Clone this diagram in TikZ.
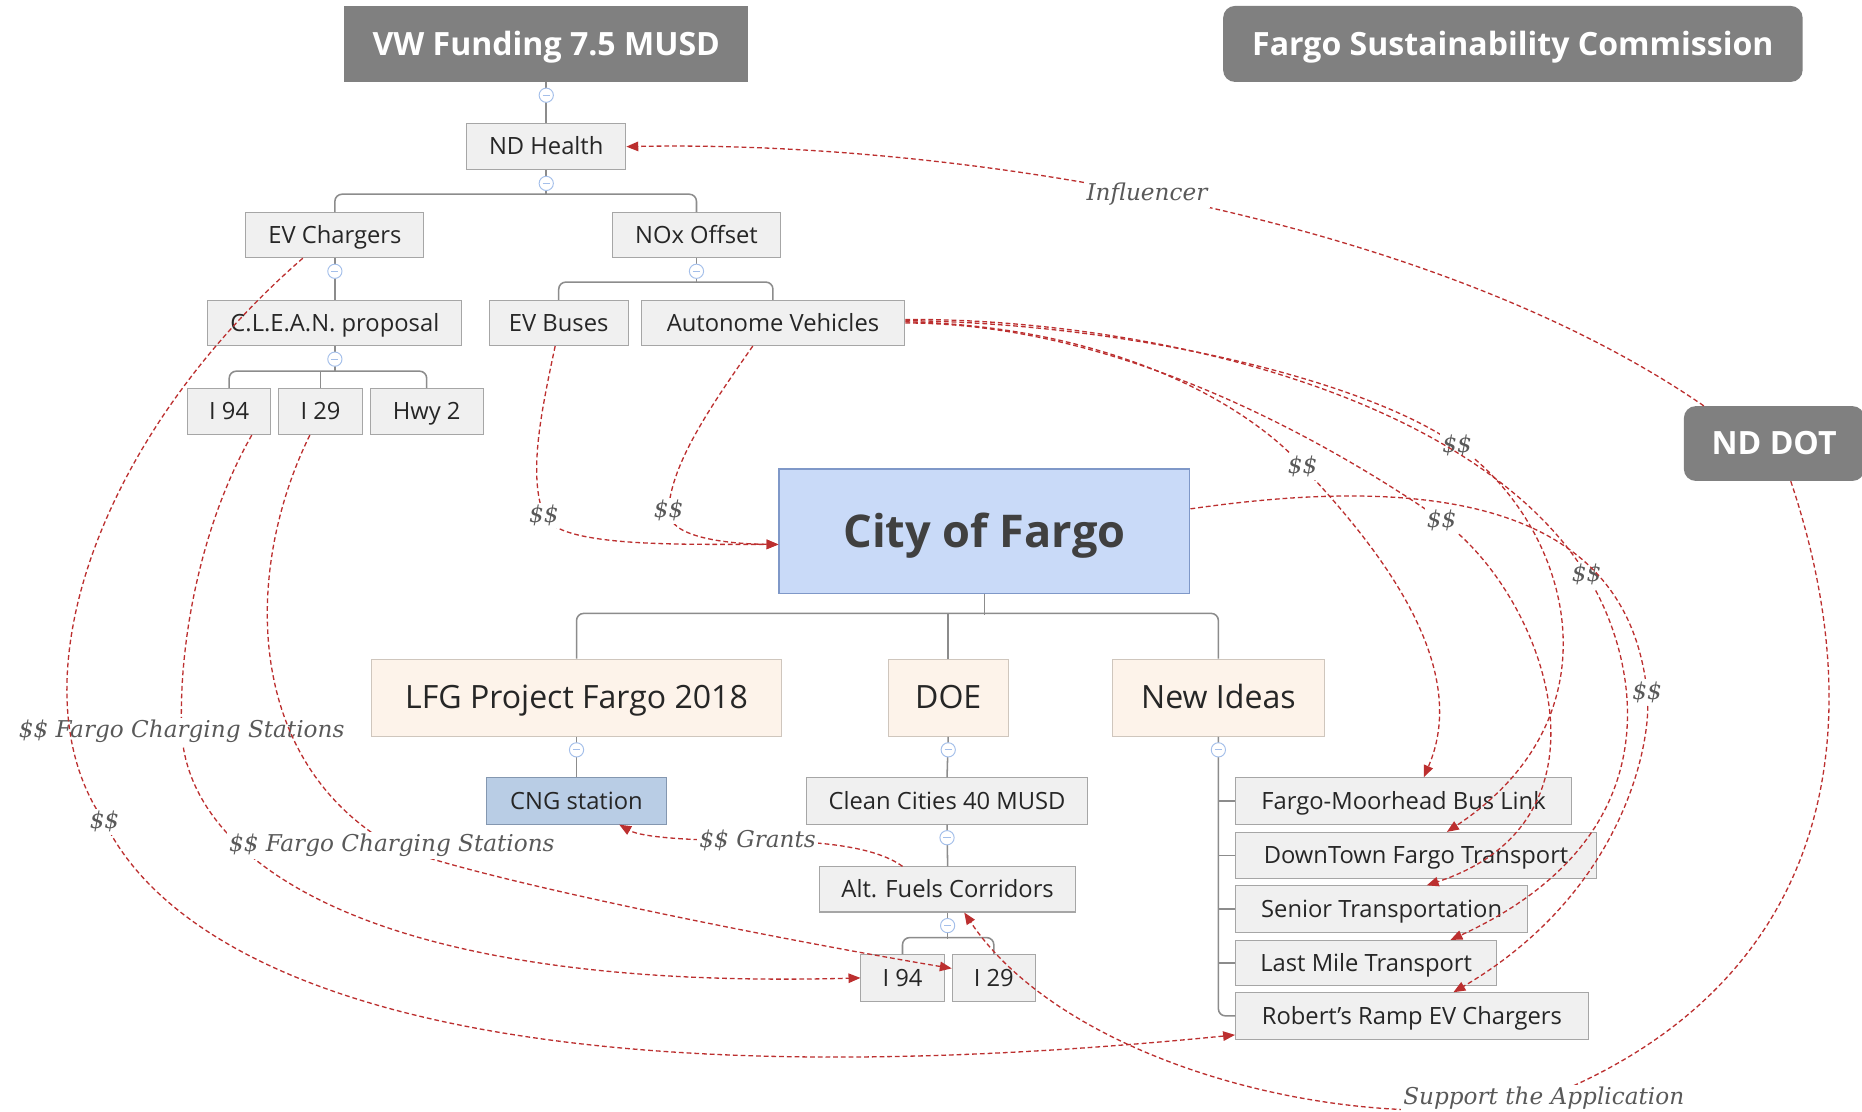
\documentclass[tikz,border=0pt]{standalone}
\usepackage{fontspec}
\setmainfont{Open Sans}
\newfontfamily\labelfont{DejaVu Serif}
\usetikzlibrary{positioning,shapes,fit,arrows.meta,calc}

\newcommand\fsz[1]{\fontsize{#1}{#1}\selectfont}

\definecolor{headgray}{HTML}{808080}
\definecolor{topicfill}{HTML}{F0F0F0}
\definecolor{topicline}{HTML}{A6A6A6}
\definecolor{topictext}{HTML}{262626}
\definecolor{mainfill}{HTML}{FDF3EA}
\definecolor{mainline}{HTML}{CFC6BD}
\definecolor{cityfill}{HTML}{C9DAF8}
\definecolor{cityline}{HTML}{7F98C8}
\definecolor{citytext}{HTML}{404040}
\definecolor{cngfill}{HTML}{B9CDE5}
\definecolor{cngline}{HTML}{8497B0}
\definecolor{foldblue}{HTML}{A4BFEA}
\definecolor{branchgray}{HTML}{8C8C8C}
\definecolor{linkred}{HTML}{BC2F2F}
\definecolor{taggray}{HTML}{595959}

\begin{document}
\begin{tikzpicture}
  [
      x=1pt, y=-1pt,
      head/.style={rectangle, inner sep=0pt, fill=headgray, text=white, font=\bfseries\fsz{27}, minimum height=64pt,
        text height=23pt, text depth=4pt},
      topic/.style={rectangle, inner sep=0pt, draw=topicline, fill=topicfill, text=topictext, font=\fsz{20}, minimum height=39pt,
        line width=0.9pt, text height=17pt, text depth=3pt},
      main topic/.style={topic, draw=mainline, fill=mainfill, font=\fsz{27}, minimum height=65pt, text height=23pt, text depth=4pt},
      fold/.style={circle, draw=foldblue, fill=white, minimum size=12pt, inner sep=0pt, line width=0.8pt,
        path picture={\draw[foldblue, line width=0.8pt] ([xshift=-3pt]path picture bounding box.center) -- ([xshift=3pt]path picture bounding box.center);}},
      branch/.style={draw=branchgray, line width=1.3pt, rounded corners=6pt},
      link/.style={draw=linkred, line width=1.1pt, dash pattern=on 4pt off 2.5pt, -{Triangle[length=10pt, width=8pt]}},
      tag/.style={font=\labelfont\itshape\fsz{19.5}, text=taggray, fill=white, inner sep=2pt},
    ]
    \useasboundingbox [fill=white] (0,0) rectangle (1568,936);

    % top row
    \node (vw) [head, minimum width=340pt] at (460,37) {VW Funding 7.5 MUSD};
    \node (fsc) [head, rounded corners=10pt, minimum width=488pt] at (1274,37) {Fargo Sustainability Commission};
    \node (nddot) [head, rounded corners=10pt, minimum width=152pt, minimum height=63pt] at (1494,373.5) {ND DOT};

    % ND Health tree
    \node (ndh) [topic, minimum width=134pt] at (460,123.5) {ND Health};
    \node (evc) [topic, minimum width=150pt, minimum height=38pt] at (282,198) {EV Chargers};
    \node (nox) [topic, minimum width=141pt, minimum height=38pt] at (586.5,198) {NOx Offset};
    \node (clean) [topic, minimum width=214pt, minimum height=38pt] at (282,272) {C.L.E.A.N. proposal};
    \node (evb) [topic, minimum width=117pt, minimum height=38pt] at (470.5,272) {EV Buses};
    \node (av) [topic, minimum width=222pt, minimum height=38pt, right=10pt of evb] {Autonome Vehicles};
    \node (ti94) [topic, minimum width=70pt] at (193,346.5) {I 94};
    \node (ti29) [topic, minimum width=70pt, right=6pt of ti94] {I 29};
    \node (hwy) [topic, minimum width=95pt, right=6pt of ti29] {Hwy 2};

    % City of Fargo tree
    \node (cf) [rectangle, inner sep=0pt, draw=cityline, fill=cityfill, text=citytext, font=\bfseries\fsz{38}, line width=1pt,
      minimum width=346pt, minimum height=105pt, text height=32pt, text depth=5pt] at (829,447.5) {City of Fargo};
    \node (lfg) [main topic, minimum width=345pt] at (485.5,587.5) {LFG Project Fargo 2018};
    \node (doe) [main topic, minimum width=101pt] at (798.5,587.5) {DOE};
    \node (ni) [main topic, minimum width=178pt] at (1026,587.5) {New Ideas};
    \node (cng) [topic, draw=cngline, fill=cngfill, minimum width=151pt] at (485.5,674.5) {CNG station};
    \node (cc) [topic, minimum width=237pt] at (797.5,674.5) {Clean Cities 40 MUSD};
    \node (af) [topic, minimum width=216pt, minimum height=38pt] at (798,749) {Alt. Fuels Corridors};
    \node (bi94) [topic, minimum width=70pt] at (760,823.5) {I 94};
    \node (bi29) [topic, minimum width=70pt, right=6pt of bi94] {I 29};
    \node (fm) [topic, anchor=west, minimum width=283pt] at (1040,674.5) {Fargo-Moorhead Bus Link};
    \node (dt) [topic, anchor=west, minimum width=304pt] at (1040,720.5) {DownTown Fargo Transport};
    \node (sn) [topic, anchor=west, minimum width=246pt] at (1040,765.5) {Senior Transportation};
    \node (lm) [topic, anchor=west, minimum width=220pt, minimum height=38pt] at (1040,811) {Last Mile Transport};
    \node (rr) [topic, anchor=west, minimum width=297pt] at (1040,855.5) {Robert's Ramp EV Chargers};

    % branches
    \draw [branch] (vw.south) -- (ndh.north);
    \draw [branch] (ndh.south) -- ++(0,21);
    \draw [branch] (evc.north) -- ++(0,-15) -| (nox.north);
    \draw [branch] (evc.south) -- (clean.north);
    \draw [branch] (nox.south) -- ++(0,21);
    \draw [branch] (evb.north) -- ++(0,-15) -| (av.north);
    \draw [branch] (clean.south) -- ++(0,22);
    \draw [branch] (ti94.north) -- ++(0,-14) -| (hwy.north);
    \draw [branch] (ti29.north) -- ++(0,-14);
    \draw [branch] (cf.south) -- ++(0,17);
    \draw [branch] (lfg.north) -- ++(0,-38) -| (ni.north);
    \draw [branch] (doe.north) -- ++(0,-38);
    \draw [branch] (lfg.south) -- (cng.north);
    \draw [branch] (doe.south) -- (cc.north);
    \draw [branch] (cc.south) -- (af.north);
    \draw [branch] (af.south) -- ++(0,22);
    \draw [branch] (bi94.north) -- ++(0,-14) -| (bi29.north);
    \draw [branch] (ni.south) |- (rr.west);
    \foreach \n in {fm,dt,sn,lm}
      \draw [branch] (ni.south |- \n.west) -- (\n.west);

    \foreach \n in {vw,ndh,evc,nox,clean,lfg,doe,ni,cc,af}
      \node [fold] at ([yshift=-11pt]\n.south) {};

    % links
    \draw [link] ([xshift=17pt]nddot.north west) .. controls (1200,180) and (800,118) .. (ndh.east)
      node [tag, pos=0.53] {Influencer};

    \draw [link] ([yshift=1pt]av.east) .. controls (950,275) and (1060,350) .. (1097,393) node [tag] {\$\$}
      .. controls (1160,460) and (1240,560) .. ([xshift=17pt]fm.north);
    \draw [link] (av.east) .. controls (950,272) and (1130,380) .. (1214,438) node [tag] {\$\$}
      .. controls (1300,500) and (1370,690) .. ([xshift=38pt]sn.north);
    \draw [link] ([yshift=2pt]av.east) .. controls (950,272) and (1150,320) .. (1227,375) node [tag] {\$\$}
      .. controls (1320,440) and (1370,600) .. ([xshift=26pt]dt.north);
    \draw [link] ([yshift=3pt]av.east) .. controls (960,268) and (1240,330) .. (1336,484) node [tag] {\$\$}
      .. controls (1375,545) and (1420,700) .. ([xshift=71pt]lm.north);
    \draw [link] ([yshift=19pt]cf.east) .. controls (1200,400) and (1370,420) .. (1387,583) node [tag] {\$\$}
      .. controls (1392,620) and (1370,750) .. ([xshift=35pt]rr.north);

    \draw [link] ([xshift=-3pt]evb.south) .. controls (455,350) and (445,400) .. (458,434) node [tag] {\$\$}
      .. controls (470,462) and (580,458) .. ([yshift=-11pt]cf.west);
    \draw [link] ([xshift=-17pt]av.south) .. controls (600,340) and (565,390) .. (563,430) node [tag] {\$\$}
      .. controls (562,452) and (610,458) .. ([yshift=-11pt]cf.west);

    \draw [link] ([xshift=19pt]ti94.south) .. controls (170,440) and (150,540) .. (153,616)
      node [tag] {\$\$ Fargo Charging Stations}
      .. controls (158,720) and (300,835) .. (bi94.west);
    \draw [link] ([xshift=-9pt]ti29.south) .. controls (205,480) and (205,640) .. (330,712)
      node [tag] {\$\$ Fargo Charging Stations}
      .. controls (400,740) and (650,790) .. ([yshift=8pt]bi29.west);
    \draw [link] ([xshift=-27pt]evc.south) .. controls (80,370) and (10,580) .. (88,692) node [tag] {\$\$}
      .. controls (140,800) and (350,940) .. ([yshift=-16pt]rr.west);

    \draw [link] ([xshift=-38pt]af.north) .. controls (740,715) and (700,708) .. (638,708) node [tag] {\$\$ Grants}
      .. controls (580,708) and (540,705) .. ([xshift=36pt]cng.south);
    \draw [link] ([xshift=14pt]nddot.south) .. controls (1580,620) and (1540,830) .. (1300,925)
      node [tag] {Support the Application}
      .. controls (1150,960) and (900,900) .. ([xshift=14pt]af.south);

  \end{tikzpicture}
\end{document}
